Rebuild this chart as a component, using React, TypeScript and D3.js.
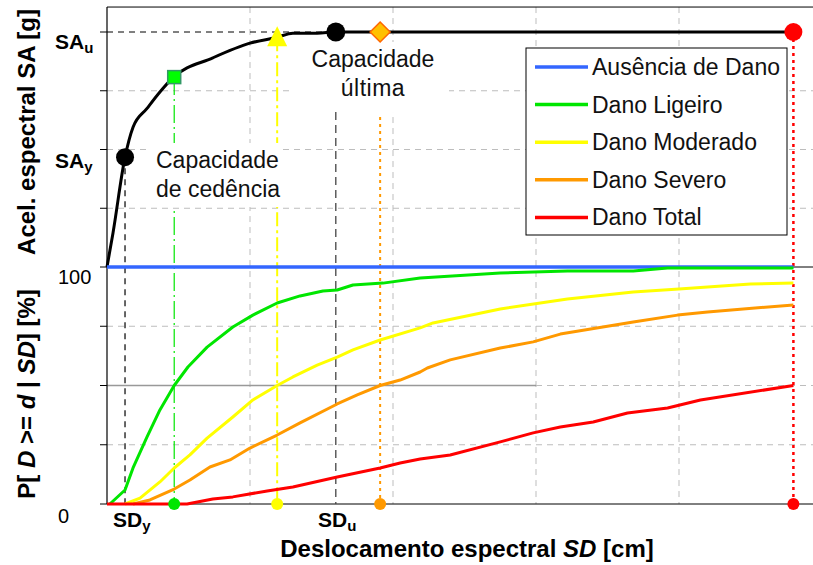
import React from 'react';
import * as d3 from 'd3';

// capacity curve: [SD (cm), SA (units of grid)]
const capacityCurve: [number, number][] = [
  [0, 0], [0.42, 0.58], [1.26, 1.87], [1.82, 2.38], [2.8, 2.7], [3.7, 2.98], [4.6, 3.22],
  [7.4, 3.56], [10, 3.81], [11.9, 3.91], [13.0, 3.98], [14.7, 3.98], [16.0, 4.0], [48, 4.0],
];

// fragility curves [SD (cm), P (%)]
const noDamage: [number, number][] = [[0, 100], [48, 100]];
const slight: [number, number][] = [
  [0.2, 0], [1.26, 5.9], [1.82, 15.2], [2.8, 28.3], [3.7, 39.7], [4.7, 50], [5.66, 57.8],
  [7.0, 66.2], [8.8, 74.7], [10.2, 79.7], [11.9, 84.8], [13.5, 87.8], [15.1, 89.9],
  [16.1, 90.3], [17.2, 92.4], [19.3, 93.2], [21.9, 95.4], [27.5, 97.5], [32.2, 98.3],
  [36.8, 98.3], [39.2, 99.6], [48, 99.6],
];
const moderate: [number, number][] = [
  [1.26, 0], [2.31, 2.5], [3.7, 9.3], [4.7, 15.2], [5.8, 20.7], [7.0, 27.8], [8.8, 36.7],
  [10.2, 43.9], [11.9, 50], [13.0, 53.6], [14.7, 58.6], [16.1, 62.0], [17.2, 65.0],
  [19.1, 69.2], [21.9, 74.3], [22.8, 76.4], [27.5, 82.3], [32.2, 86.5], [36.8, 89.5],
  [40, 90.7], [45, 92.8], [48, 93.2],
];
const extensive: [number, number][] = [
  [1.82, 0], [3.0, 1.7], [4.7, 6.3], [5.8, 10.1], [7.2, 15.6], [8.6, 18.6], [10, 23.6],
  [11.9, 29.1], [13.5, 34.2], [16.1, 42.2], [17.5, 46.0], [19.1, 50], [20.5, 52.3],
  [21.9, 55.7], [22.4, 57.4], [24.0, 60.8], [27.5, 65.8], [29.8, 68.4], [31.7, 71.7],
  [36.8, 76.8], [39.9, 79.7], [42, 81.0], [48, 84.0],
];
const complete: [number, number][] = [
  [0, 0], [5.6, 0], [7.4, 2.1], [8.8, 3.0], [11.2, 5.5], [13.0, 7.2], [16.1, 11.4],
  [19.1, 15.2], [20.5, 17.3], [21.9, 19.0], [24.0, 20.7], [27.5, 26.2], [29.8, 30.0],
  [31.7, 32.5], [34.0, 34.6], [36.4, 38.4], [39.2, 40.5], [41.5, 43.9], [48, 50],
];

const legendLabels = ['Ausência de Dano', 'Dano Ligeiro', 'Dano Moderado', 'Dano Severo', 'Dano Total'];
const colors = ['#3366ff', '#00e600', '#ffff00', '#ff9900', '#ff0000'];
const series = [noDamage, slight, moderate, extensive, complete];

// damage-state thresholds (SD)
const sdYield = 1.26;
const saYield = 1.87;
const sdUlt = 16.0;
const saUlt = 4.0;
const thresholds = [4.7, 11.9, 19.1, 48];

const xGrid = [10, 20, 30, 40];
const topGrid = [1, 2, 3];
const botGrid = [25, 75];
const botTicks = [0, 25, 50, 75, 100];

const x = d3.scaleLinear().domain([0, 50]).range([107, 822]);
const yTop = d3.scaleLinear().domain([0, 4]).range([267, 32]);
const yBot = d3.scaleLinear().domain([0, 100]).range([504, 267]);
const TOP = yTop(4.425);
const RIGHT = 813;

const saAt = (sd: number) => {
  const i = d3.bisector((d: [number, number]) => d[0]).left(capacityCurve, sd);
  if (i <= 0) return capacityCurve[0][1];
  if (i >= capacityCurve.length) return capacityCurve[capacityCurve.length - 1][1];
  const a = capacityCurve[i - 1], b = capacityCurve[i];
  return a[1] + (b[1] - a[1]) * (sd - a[0]) / (b[0] - a[0]);
};

const capLine = d3.line<[number, number]>().x(d => x(d[0])).y(d => yTop(d[1])).curve(d3.curveMonotoneX);
const fragLine = d3.line<[number, number]>().x(d => x(d[0])).y(d => yBot(d[1]));

const font = 'Liberation Sans, Arial, sans-serif';
const grid = { stroke: '#bdbdbd', strokeWidth: 1, strokeDasharray: '6,5' };

export default function App() {
  const [gx, yx, ox, rx] = thresholds.map(t => x(t));
  const diamond = (cx: number, cy: number, r: number) =>
    `M${cx},${cy - r}L${cx + r},${cy}L${cx},${cy + r}L${cx - r},${cy}Z`;
  const triangle = (cx: number, cy: number, s: number) =>
    `M${cx},${cy - s * 0.55}L${cx + s / 2},${cy + s * 0.45}L${cx - s / 2},${cy + s * 0.45}Z`;

  return (
    <svg width={813} height={565} style={{ position: 'absolute', left: 0, top: 0, background: '#fff' }}
      fontFamily={font}>
      {/* grid */}
      {xGrid.map(v => <line key={'gx' + v} x1={x(v)} x2={x(v)} y1={TOP} y2={yBot(0)} {...grid} />)}
      {topGrid.map(v => <line key={'gt' + v} x1={x(0)} x2={RIGHT} y1={yTop(v)} y2={yTop(v)} {...grid} />)}
      {botGrid.map(v => <line key={'gb' + v} x1={x(0)} x2={RIGHT} y1={yBot(v)} y2={yBot(v)} {...grid} />)}
      <line x1={x(0)} x2={RIGHT} y1={yBot(50)} y2={yBot(50)} {...grid} />
      <line x1={x(0)} x2={x(30)} y1={yBot(50)} y2={yBot(50)} stroke="#999" strokeWidth={1.5} />

      {/* frame */}
      <line x1={x(0)} x2={RIGHT} y1={TOP} y2={TOP} stroke="#000" strokeWidth={1} />
      <line x1={x(0)} x2={RIGHT} y1={yBot(100)} y2={yBot(100)} stroke="#000" strokeWidth={1} />
      <line x1={x(0)} x2={RIGHT} y1={yBot(0)} y2={yBot(0)} stroke="#000" strokeWidth={1} />
      <line x1={x(0)} x2={x(0)} y1={TOP} y2={yBot(0)} stroke="#000" strokeWidth={1.2} />
      {[1, 2, 3, 4].map(v => <line key={'tt' + v} x1={x(0) - 7} x2={x(0)} y1={yTop(v)} y2={yTop(v)} stroke="#000" />)}
      {botTicks.map(v => <line key={'tb' + v} x1={x(0) - 7} x2={x(0)} y1={yBot(v)} y2={yBot(v)} stroke="#000" />)}

      {/* reference lines */}
      <line x1={x(0)} x2={x(sdUlt)} y1={yTop(saUlt)} y2={yTop(saUlt)} stroke="#000" strokeDasharray="6,5" />
      <line x1={x(sdYield)} x2={x(sdYield)} y1={yTop(saYield)} y2={yBot(0)} stroke="#000" strokeWidth={1.2} strokeDasharray="6,5" />
      <line x1={x(sdUlt)} x2={x(sdUlt)} y1={112} y2={yBot(0)} stroke="#444" strokeWidth={1.3} strokeDasharray="8,5" />
      <line x1={gx} x2={gx} y1={yTop(saAt(thresholds[0]))} y2={yBot(0)} stroke={colors[1]} strokeWidth={1.2} strokeDasharray="18,4,2,4" />
      <line x1={yx} x2={yx} y1={yTop(saAt(thresholds[1]))} y2={yBot(0)} stroke={colors[2]} strokeWidth={2} strokeDasharray="14,4,3,4" />
      <line x1={ox} x2={ox} y1={117} y2={yBot(0)} stroke={colors[3]} strokeWidth={2} strokeDasharray="3,4" />
      <line x1={rx} x2={rx} y1={yTop(saAt(thresholds[3]))} y2={yBot(0)} stroke={colors[4]} strokeWidth={2.5} strokeDasharray="3,4" />

      {/* text backgrounds */}
      <rect x={148} y={143} width={134} height={64} fill="#fff" />
      <rect x={294} y={42} width={155} height={70} fill="#fff" />

      {/* capacity curve */}
      <path d={capLine(capacityCurve) ?? ''} fill="none" stroke="#000" strokeWidth={3} strokeLinejoin="round" />

      {/* fragility curves */}
      {series.map((s, i) => (
        <path key={'s' + i} d={fragLine(s) ?? ''} fill="none" stroke={colors[i]} strokeWidth={i === 0 ? 3.5 : 3} strokeLinejoin="round" />
      ))}

      {/* markers on capacity curve */}
      <circle cx={x(sdYield)} cy={yTop(saYield)} r={9} fill="#000" />
      <circle cx={x(sdUlt)} cy={yTop(saUlt)} r={9.5} fill="#000" />
      <rect x={gx - 6.5} y={yTop(saAt(thresholds[0])) - 6.5} width={13} height={13} fill="#00ff00" stroke="#339966" strokeWidth={1.5} />
      <path d={triangle(yx, yTop(saAt(thresholds[1])), 20)} fill="#ffff00" />
      <path d={diamond(ox, yTop(saAt(thresholds[2])), 10)} fill="#ffc000" stroke="#ff6600" strokeWidth={1.5} />
      <circle cx={rx} cy={yTop(saAt(thresholds[3]))} r={9} fill="#ff0000" />

      {/* markers on x axis */}
      {thresholds.map((t, i) => <circle key={'m' + i} cx={x(t)} cy={yBot(0)} r={6} fill={colors[i + 1]} />)}

      {/* annotations */}
      <text x={156} y={168} fontSize={23} fill="#111">Capacidade</text>
      <text x={156} y={197} fontSize={23} fill="#111">de cedência</text>
      <text x={373} y={67} fontSize={23} fill="#111" textAnchor="middle">Capacidade</text>
      <text x={373} y={96} fontSize={23} fill="#111" textAnchor="middle" letterSpacing={0.5}>última</text>

      {/* axis labels */}
      <text x={55} y={49} fontSize={21} fontWeight="bold">SA<tspan fontSize={15} dy={4}>u</tspan></text>
      <text x={55} y={168} fontSize={21} fontWeight="bold">SA<tspan fontSize={15} dy={4}>y</tspan></text>
      <text x={58} y={284} fontSize={20}>100</text>
      <text x={58} y={523} fontSize={20}>0</text>
      <text x={113} y={527} fontSize={21} fontWeight="bold">SD<tspan fontSize={15} dy={4}>y</tspan></text>
      <text x={318} y={527} fontSize={21} fontWeight="bold">SD<tspan fontSize={15} dy={4}>u</tspan></text>

      <text x={467} y={557} fontSize={24} fontWeight="bold" textAnchor="middle">
        Deslocamento espectral <tspan fontStyle="italic">SD</tspan> [cm]
      </text>
      <text transform="translate(35,132) rotate(-90)" fontSize={24} fontWeight="bold" textAnchor="middle">
        Acel. espectral SA [g]
      </text>
      <text transform="translate(35,394) rotate(-90)" fontSize={24} fontWeight="bold" textAnchor="middle">
        P[ <tspan fontStyle="italic">D</tspan> &gt;= <tspan fontStyle="italic">d</tspan> | <tspan fontStyle="italic">SD</tspan>] [%]
      </text>

      {/* legend */}
      <rect x={526} y={48} width={261} height={187} fill="#fff" stroke="#000" strokeWidth={1} />
      {legendLabels.map((l, i) => (
        <g key={l} transform={`translate(0,${67 + i * 37.6})`}>
          <line x1={535} x2={588} y1={0} y2={0} stroke={colors[i]} strokeWidth={3.5} />
          <text x={592} y={8} fontSize={23} fill="#111">{l}</text>
        </g>
      ))}
    </svg>
  );
}
